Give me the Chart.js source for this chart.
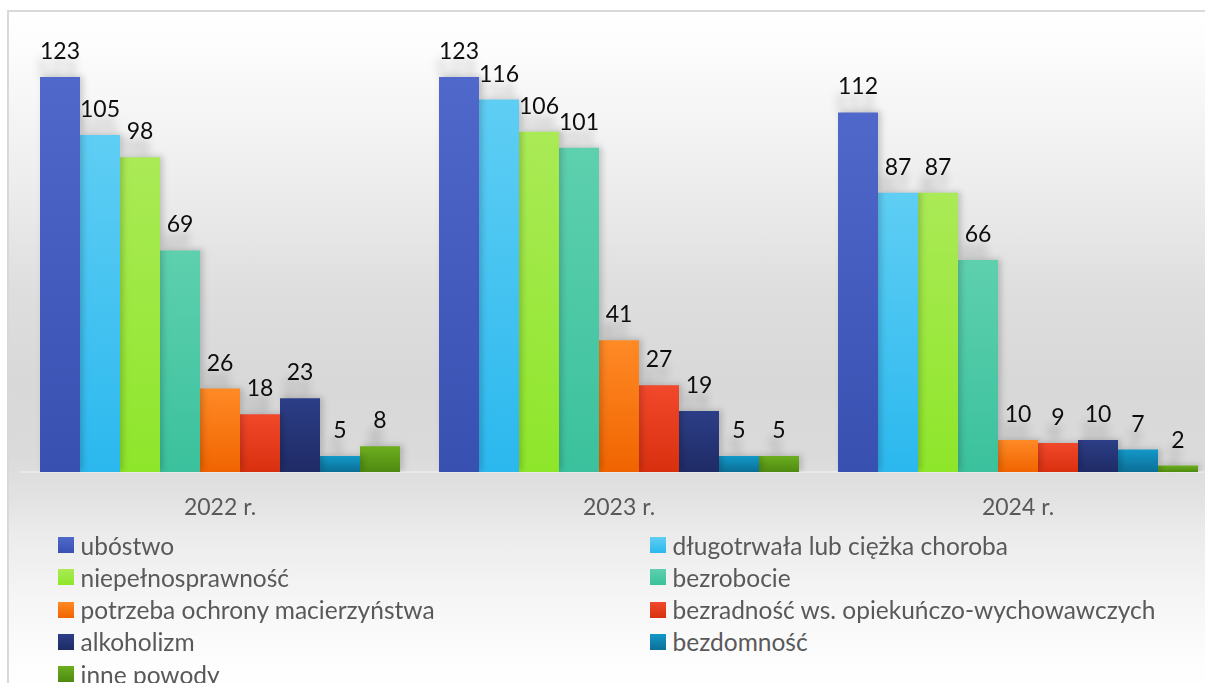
<!DOCTYPE html>
<html><head><meta charset="utf-8">
<script src="https://cdn.jsdelivr.net/npm/chart.js@4.4.0/dist/chart.umd.min.js"></script>
<style>
html,body{margin:0;padding:0;width:1205px;height:683px;overflow:hidden;background:#fff;}
#frame{position:absolute;left:7px;top:10px;width:1240px;height:720px;border-top:2px solid #d9d9d9;border-left:2px solid #d9d9d9;
background:linear-gradient(to bottom,#ffffff 0px,#fdfdfd 30px,#ececec 180px,#dedede 280px,#d8d8d8 370px,#dadada 440px,#e3e3e3 490px,#ebebeb 520px,#f6f6f6 590px,#fefefe 660px);}
#c{position:absolute;left:0;top:0;}
.item{position:absolute;height:32px;display:flex;align-items:center;font-family:Lato,sans-serif;font-size:24.5px;color:#595959;white-space:nowrap;}
.box{width:16px;height:16px;margin-right:6.5px;flex:none;}
</style></head>
<body>
<div id="frame"></div>
<canvas id="c" width="1240" height="530" style="width:1240px;height:530px"></canvas>
<div id="legend"></div>
<script>
const categories = ['2022 r.', '2023 r.', '2024 r.'];
const seriesNames = ['ubóstwo','długotrwała lub ciężka choroba','niepełnosprawność','bezrobocie','potrzeba ochrony macierzyństwa','bezradność ws. opiekuńczo-wychowawczych','alkoholizm','bezdomność','inne powody'];
const ubostwo = [123, 123, 112];
const choroba = [105, 116, 87];
const niepelnosprawnosc = [98, 106, 87];
const bezrobocie = [69, 101, 66];
const macierzynstwo = [26, 41, 10];
const bezradnosc = [18, 27, 9];
const alkoholizm = [23, 19, 10];
const bezdomnosc = [5, 5, 7];
const innePowody = [8, 5, 2];
const seriesValues = [ubostwo, choroba, niepelnosprawnosc, bezrobocie, macierzynstwo, bezradnosc, alkoholizm, bezdomnosc, innePowody];
const topColors = ['#5068ca','#5fcef4','#aaea56','#5ed0ae','#ff8a26','#f2482b','#2c3e86','#1398c8','#6cae1f'];
const bottomColors = ['#3850b0','#2bb8ee','#8ee62a','#3bc19d','#f06400','#d8300f','#1f2b66','#0b6f97','#4f8a10'];

function grad(top, bottom){
  return (c) => {
    const ch = c.chart, ys = ch.scales.y;
    if (c.type !== 'data' || !ys || !ch.chartArea) return top;
    const y0 = ys.getPixelForValue(c.raw), y1 = ys.getPixelForValue(0);
    if (!isFinite(y0) || !isFinite(y1) || y1 - y0 < 1) return top;
    const g = ch.ctx.createLinearGradient(0, y0, 0, y1);
    g.addColorStop(0, top); g.addColorStop(1, bottom);
    return g;
  };
}

const LABEL_FONT = '23px Lato, sans-serif';
const labelPlugin = {
  id: 'valueLabels',
  beforeDatasetsDraw(chart){
    const ctx = chart.ctx;
    ctx.save();
    ctx.font = LABEL_FONT; ctx.textAlign = 'center'; ctx.textBaseline = 'alphabetic';
    ctx.fillStyle = '#000';
    ctx.shadowColor = 'rgba(0,0,0,0.30)'; ctx.shadowBlur = 10;
    ctx.shadowOffsetX = 10000 - 4; ctx.shadowOffsetY = 17;
    chart.data.datasets.forEach((ds, i) => {
      chart.getDatasetMeta(i).data.forEach((bar, j) => {
        ctx.fillText(String(ds.data[j]), bar.x - 10000, bar.y - 18);
      });
    });
    ctx.restore();
    ctx.shadowColor = 'rgba(0,0,0,0.18)'; ctx.shadowBlur = 6; ctx.shadowOffsetX = 3; ctx.shadowOffsetY = -1;
  },
  afterDatasetsDraw(chart){
    const ctx = chart.ctx;
    ctx.shadowColor = 'rgba(0,0,0,0)'; ctx.shadowBlur = 0; ctx.shadowOffsetX = 0; ctx.shadowOffsetY = 0;
    ctx.save();
    ctx.font = LABEL_FONT; ctx.textAlign = 'center'; ctx.textBaseline = 'alphabetic';
    ctx.fillStyle = '#0d0d0d';
    chart.data.datasets.forEach((ds, i) => {
      chart.getDatasetMeta(i).data.forEach((bar, j) => {
        ctx.fillText(String(ds.data[j]), bar.x, bar.y - 18);
      });
    });
    ctx.restore();
  }
};

const datasets = seriesNames.map((name, i) => ({
  label: name,
  data: seriesValues[i],
  backgroundColor: grad(topColors[i], bottomColors[i]),
  borderWidth: 0,
  categoryPercentage: 360 / 399,
  barPercentage: 1
}));

const chart = new Chart(document.getElementById('c'), {
  type: 'bar',
  data: { labels: categories, datasets },
  options: {
    responsive: false,
    animation: false,
    devicePixelRatio: 1,
    layout: { padding: { left: 20.5, right: 22.5, top: 22.5, bottom: 0 } },
    plugins: { legend: { display: false }, tooltip: { enabled: false } },
    scales: {
      x: {
        offset: true,
        grid: { display: false, drawTicks: false },
        border: { display: true, color: '#e9e9e9', width: 2 },
        ticks: { color: '#595959', font: { family: 'Lato, sans-serif', size: 23 }, padding: 22 },
        afterFit(scale){ scale.height = 58; }
      },
      y: { display: false, min: 0, max: 140 }
    }
  },
  plugins: [labelPlugin]
});

// HTML legend in two columns
const legend = document.getElementById('legend');
seriesNames.forEach((name, i) => {
  const col = i % 2, row = Math.floor(i / 2);
  const el = document.createElement('div');
  el.className = 'item';
  el.style.left = (col === 0 ? 58 : 650) + 'px';
  el.style.top = (545 + row * 32.3 - 16) + 'px';
  const b = document.createElement('span');
  b.className = 'box';
  b.style.background = 'linear-gradient(to bottom,' + topColors[i] + ',' + bottomColors[i] + ')';
  const t = document.createElement('span');
  t.textContent = name;
  el.appendChild(b); el.appendChild(t);
  legend.appendChild(el);
});
if (document.fonts && document.fonts.ready) document.fonts.ready.then(() => chart.update());
</script>
</body></html>
